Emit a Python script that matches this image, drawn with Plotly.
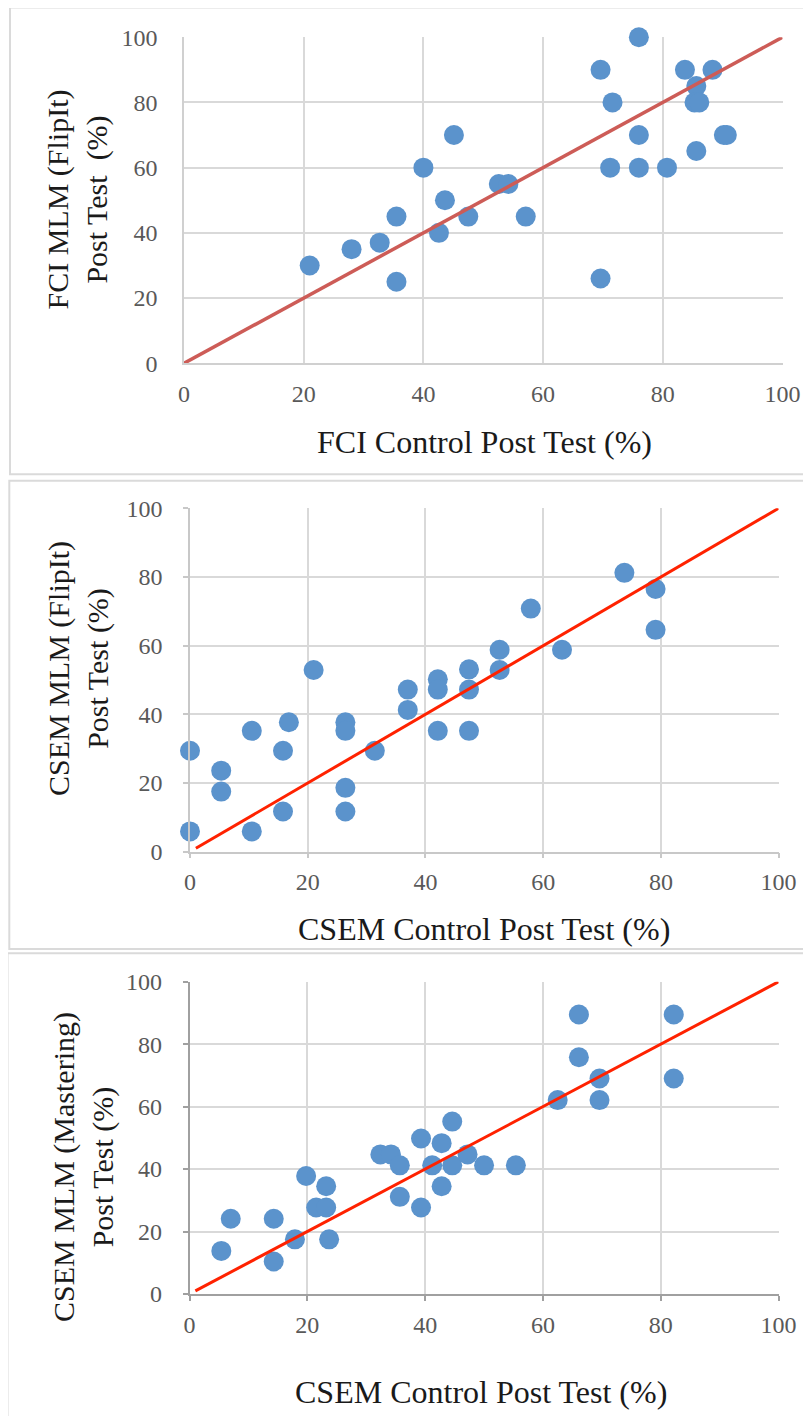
import plotly.graph_objects as go

W, H = 811, 1416
OFF = 8  # page body margin of the html page

# ---------------- data ----------------
fci_control = [21, 28, 32.7, 35.5, 35.5, 40, 42.6, 43.6, 45.1, 47.5, 52.6, 54.2, 57.1,
               69.6, 69.6, 71.6, 71.2, 76, 76, 76, 80.7, 83.7, 85.6, 85.3, 86.1, 85.6,
               88.3, 90.2, 90.7]
fci_flipit = [30, 35, 37, 45, 25, 60, 40, 50, 70, 45, 55, 55, 45,
              90, 26, 80, 60, 100, 70, 60, 60, 90, 85, 80, 80, 65.1,
              90, 70, 70]

csem_control_a = [0, 0, 5.3, 5.3, 10.5, 10.5, 15.8, 15.8, 16.8, 21, 26.4, 26.4, 26.4, 26.4,
                  31.4, 37, 37, 42.1, 42.1, 42.1, 47.4, 47.4, 47.4, 52.6, 52.6, 57.9,
                  63.2, 73.8, 79.1, 79.1]
csem_flipit = [5.9, 29.4, 23.6, 17.5, 35.2, 5.9, 29.4, 11.7, 37.7, 52.9, 37.7, 35.2, 18.6, 11.7,
               29.4, 47.2, 41.3, 50.2, 47.2, 35.2, 53.1, 47.2, 35.2, 58.8, 52.9, 70.8,
               58.8, 81.2, 76.5, 64.6]

csem_control_b = [5.4, 7.0, 14.3, 14.3, 17.9, 19.8, 21.5, 23.2, 23.2, 23.7, 32.4, 34.2, 35.7,
                  35.7, 39.3, 39.3, 41.2, 42.8, 42.8, 44.6, 44.6, 47.2, 50, 55.4, 62.5,
                  66.1, 66.1, 69.6, 69.6, 82.2, 82.2]
csem_mastering = [13.8, 24.1, 24.1, 10.4, 17.5, 37.8, 27.7, 27.7, 34.5, 17.5, 44.7, 44.7, 41.2,
                  31.1, 49.8, 27.7, 41.2, 48.3, 34.5, 55.2, 41.2, 44.7, 41.2, 41.2, 62.1,
                  89.5, 75.8, 69.0, 62.1, 89.5, 69.0]

line1_x = [0, 100]
line1_y = [0, 100]
line23_x = [1, 100]
line23_y = [1, 100]

ticks = [0, 20, 40, 60, 80, 100]
tick_labels = ["0", "20", "40", "60", "80", "100"]

x_titles = ["FCI Control Post Test (%)", "CSEM Control Post Test (%)", "CSEM Control Post Test (%)"]
y_titles = ["FCI MLM (FlipIt)<br>Post Test\u00a0\u00a0(%)",
            "CSEM MLM (FlipIt)<br>Post Test (%)",
            "CSEM MLM (Mastering)<br>Post Test (%)"]


def px(x):
    return (x - OFF) / W


def py(y):
    return 1 - (y - OFF) / H


MARKER = "#5B93CC"
SERIF = "Liberation Serif"

fig = go.Figure()

# panel geometry in page pixels: (x0, x100, y0, y100)
panels = [
    (184, 782.5, 363.3, 37.2),
    (190, 778.6, 851.7, 508.3),
    (189.5, 778.6, 1294, 981.7),
]

series = [(fci_control, fci_flipit, line1_x, line1_y, "#CD5C57", 3.5),
          (csem_control_a, csem_flipit, line23_x, line23_y, "#FF2200", 3),
          (csem_control_b, csem_mastering, line23_x, line23_y, "#FF2200", 3)]

for i, (sx, sy, lx, ly, lc, lw) in enumerate(series):
    xa = "x" if i == 0 else f"x{i+1}"
    ya = "y" if i == 0 else f"y{i+1}"
    fig.add_trace(go.Scatter(x=sx, y=sy, mode="markers", xaxis=xa, yaxis=ya,
                             marker=dict(size=20, color=MARKER, line=dict(width=0)),
                             cliponaxis=False, showlegend=False, hoverinfo="skip"))
    fig.add_trace(go.Scatter(x=lx, y=ly, mode="lines", xaxis=xa, yaxis=ya,
                             line=dict(color=lc, width=lw),
                             cliponaxis=False, showlegend=False, hoverinfo="skip"))

layout = dict(width=W, height=H, autosize=False,
              margin=dict(l=0, r=0, t=0, b=0, pad=0, autoexpand=False),
              template="none",
              paper_bgcolor="white", plot_bgcolor="white", showlegend=False)

axis_line_colors = ["#d0d0d0", "#c8c8c8", "#a0a0a0"]
x_standoff = [8, 3, 3]
y_standoff = [20, 16, 16]
for i, (x0, x1, y0, y1) in enumerate(panels):
    sfx = "" if i == 0 else str(i + 1)
    tick_mode = "" if i == 0 else "outside"
    common = dict(
        range=[0, 100], automargin=False,
        tickmode="array", tickvals=ticks, ticktext=tick_labels,
        showgrid=True, gridcolor="#d9d9d9", gridwidth=1.5,
        showline=True, linecolor=axis_line_colors[i], linewidth=1.5,
        zeroline=False, ticks=tick_mode, ticklen=5, tickwidth=1.5,
        tickcolor=axis_line_colors[i],
        tickfont=dict(family=SERIF, size=24, color="#595959"),
        fixedrange=True)
    layout["xaxis" + sfx] = dict(domain=[px(x0), px(x1)], anchor="y" + sfx,
                                 ticklabelstandoff=x_standoff[i], **common)
    layout["yaxis" + sfx] = dict(domain=[py(y0), py(y1)], anchor="x" + sfx,
                                 ticklabelstandoff=y_standoff[i], **common)

fig.update_layout(**layout)

# panel borders (page pixels)
borders = [(10, 7.5, 830, 474.3), (9.3, 480.7, 830, 949), (7.5, 953.3, 830, 1430)]
for (bx0, by0, bx1, by1) in borders:
    fig.add_shape(type="rect", xref="paper", yref="paper",
                  x0=px(bx0), x1=px(bx1), y0=py(by1), y1=py(by0),
                  line=dict(color="#dadada", width=2), fillcolor="rgba(0,0,0,0)",
                  layer="below")

# axis titles (page pixels)
x_title_pos = [(484.5, 442), (484, 929), (481, 1392)]
y_title_pos = [(77.5, 200), (78, 669), (83, 1167)]
for i in range(3):
    fig.add_annotation(text=x_titles[i], xref="paper", yref="paper",
                       x=px(x_title_pos[i][0]), y=py(x_title_pos[i][1]),
                       xanchor="center", yanchor="middle", showarrow=False,
                       font=dict(family=SERIF, size=32, color="#1a1a1a"))
    fig.add_annotation(text=y_titles[i], xref="paper", yref="paper",
                       x=px(y_title_pos[i][0]), y=py(y_title_pos[i][1]),
                       xanchor="center", yanchor="middle", showarrow=False,
                       textangle=-90,
                       font=dict(family=SERIF, size=30, color="#1a1a1a"))

fig.write_html("out.html")
